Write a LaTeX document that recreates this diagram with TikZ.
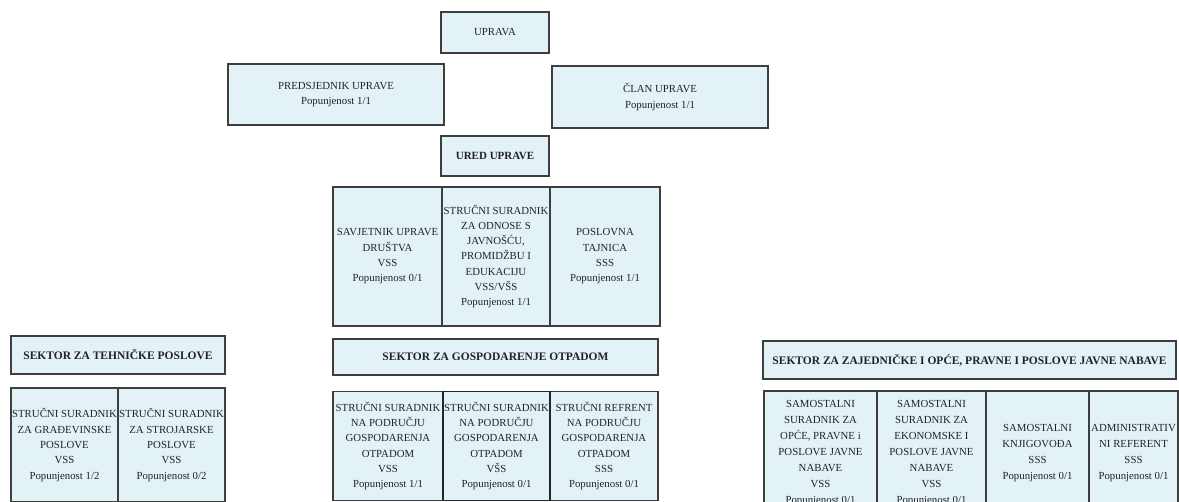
\documentclass[tikz,border=0pt]{standalone}
\usepackage{fontspec}
\setmainfont{Liberation Serif}
\definecolor{fillc}{RGB}{226,242,247}
\definecolor{linec}{RGB}{62,62,62}
\definecolor{textc}{RGB}{35,35,35}
\newcommand{\cellfont}{\fontsize{10.8}{15.3}\selectfont}
\newcommand{\widecellfont}{\fontsize{10.8}{16}\selectfont}
\newcommand{\hdrfont}{\bfseries\fontsize{11.5}{13}\selectfont}
\begin{document}
\begin{tikzpicture}[x=1pt,y=-1pt,
  box/.style={draw=linec, line width=1.2pt, fill=fillc, inner sep=1pt,
    align=center, text=textc, font=\cellfont},
  hdrbox/.style={box, font=\hdrfont},
  widebox/.style={box, font=\widecellfont}
]
\useasboundingbox (0,0) rectangle (1179,502);
\fill[white] (0,0) rectangle (1179,502);
\clip (0,0) rectangle (1179,502);

% top
\node[box, minimum width=108, minimum height=41] (uprava) at (495,32.5) {UPRAVA};
\node[box, minimum width=216, minimum height=61] (pred) at (336,94.5) {PREDSJEDNIK UPRAVE\\Popunjenost 1/1};
\node[box, minimum width=216, minimum height=62] (clan) at (660,97) {ČLAN UPRAVE\\Popunjenost 1/1};
\node[hdrbox, font=\bfseries\fontsize{11}{13}\selectfont, minimum width=108, minimum height=40] (ured) at (495,156) {URED UPRAVE};

% ured table
\node[box, minimum width=109, minimum height=139] (savj) at (387.5,256.5) {SAVJETNIK UPRAVE\\DRUŠTVA\\VSS\\Popunjenost 0/1};
\node[box, minimum width=108, minimum height=139] (odnosi) at (496,256.5) {STRUČNI SURADNIK\\ZA ODNOSE S\\JAVNOŠĆU,\\PROMIDŽBU I\\EDUKACIJU\\VSS/VŠS\\Popunjenost 1/1};
\node[box, minimum width=110, minimum height=139] (tajnica) at (605,256.5) {POSLOVNA\\TAJNICA\\SSS\\Popunjenost 1/1};

% left sector
\node[hdrbox, minimum width=214, minimum height=38] (tehn) at (118,355) {SEKTOR ZA TEHNIČKE POSLOVE};
\node[box, minimum width=107, minimum height=114] (grad) at (64.5,445) {STRUČNI SURADNIK\\ZA GRAĐEVINSKE\\POSLOVE\\VSS\\Popunjenost 1/2};
\node[box, minimum width=107, minimum height=114] (stroj) at (171.5,445) {STRUČNI SURADNIK\\ZA STROJARSKE\\POSLOVE\\VSS\\Popunjenost 0/2};

% middle sector
\node[hdrbox, minimum width=325, minimum height=36] (otpad) at (495.5,357) {SEKTOR ZA GOSPODARENJE OTPADOM};
\node[box, minimum width=110, minimum height=109] (otp1) at (388,446) {STRUČNI SURADNIK\\NA PODRUČJU\\GOSPODARENJA\\OTPADOM\\VSS\\Popunjenost 1/1};
\node[box, minimum width=108, minimum height=109] (otp3) at (604,446) {STRUČNI REFRENT\\NA PODRUČJU\\GOSPODARENJA\\OTPADOM\\SSS\\Popunjenost 0/1};
\node[box, draw=black!85, minimum width=107, minimum height=109] (otp2) at (496.5,446) {STRUČNI SURADNIK\\NA PODRUČJU\\GOSPODARENJA\\OTPADOM\\VŠS\\Popunjenost 0/1};

% right sector
\node[hdrbox, minimum width=413, minimum height=38] (zaj) at (969.5,360) {SEKTOR ZA ZAJEDNIČKE I OPĆE, PRAVNE I POSLOVE JAVNE NABAVE};
\node[widebox, minimum width=113, minimum height=124] (sam1) at (820.5,453) {SAMOSTALNI\\SURADNIK ZA\\OPĆE, PRAVNE i\\POSLOVE JAVNE\\NABAVE\\VSS\\Popunjenost 0/1};
\node[widebox, minimum width=109, minimum height=124] (sam2) at (931.5,453) {SAMOSTALNI\\SURADNIK ZA\\EKONOMSKE I\\POSLOVE JAVNE\\NABAVE\\VSS\\Popunjenost 0/1};
\node[widebox, minimum width=103, minimum height=124] (knjig) at (1037.5,453) {SAMOSTALNI\\KNJIGOVOĐA\\SSS\\Popunjenost 0/1};
\node[widebox, minimum width=89, minimum height=124] (admin) at (1133.5,453) {ADMINISTRATIV\\NI REFERENT\\SSS\\Popunjenost 0/1};
\end{tikzpicture}
\end{document}
